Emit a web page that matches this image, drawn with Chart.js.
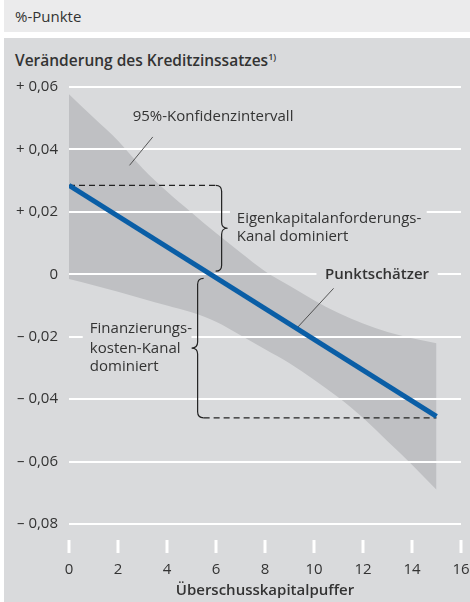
<!DOCTYPE html>
<html>
<head>
<meta charset="utf-8">
<script src="https://cdn.jsdelivr.net/npm/chart.js@4/dist/chart.umd.min.js"></script>
<style>
    body { margin: 0; background: #fff; width: 470px; height: 602px; overflow: hidden; position: relative; font-family: "Open Sans", sans-serif; color: #333; }
    #head { position: absolute; left: 4px; top: 0; width: 466px; height: 32px; background: #ebebec; font-size: 15px; line-height: 32px; padding-left: 11px; box-sizing: border-box; }
    #panel { position: absolute; left: 4px; top: 38px; width: 466px; height: 564px; background: #d9dadc; }
    #title { position: absolute; left: 15px; top: 49px; font-size: 15.5px; font-weight: 600; }
    #title sup { font-size: 9px; }
    #chart { position: absolute; left: 0; top: 0; }
</style>
</head>
<body>
<div id="head">%-Punkte</div>
<div id="panel"></div>
<div id="title">Veränderung des Kreditzinssatzes<sup>1)</sup></div>
<canvas id="chart" width="470" height="602"></canvas>
<script>
// x values (Überschusskapitalpuffer)
const xs = [0, 1, 2, 3, 4, 5, 6, 7, 8, 9, 10, 11, 12, 13, 14, 15];
// 95%-Konfidenzintervall
const upper = [0.0577, 0.0502, 0.0428, 0.0340, 0.0265, 0.0198, 0.0132, 0.0070, 0.0010, -0.0037, -0.0083, -0.0124, -0.0158, -0.0185, -0.0205, -0.0221];
const lower = [-0.0015, -0.0035, -0.0056, -0.0078, -0.0100, -0.0122, -0.0152, -0.0195, -0.0240, -0.0285, -0.0338, -0.0395, -0.0460, -0.0535, -0.0610, -0.0690];
// Punktschätzer (straight line)
const estX = [0, 15];
const est = [0.0285, -0.0455];
const yTicks = [0.06, 0.04, 0.02, 0, -0.02, -0.04, -0.06, -0.08];
const xTicks = [0, 2, 4, 6, 8, 10, 12, 14, 16];

const panelColor = '#d9dadc';
const bandColor = '#bfc0c3';
const blue = '#0a5ea6';
const textColor = '#333';
const font = '"Open Sans", sans-serif';

function fmt(v) {
    if (Math.abs(v) < 1e-9) return '0';
    const s = Math.abs(v).toFixed(2).replace('.', ',');
    return (v > 0 ? '+ ' : '\u2013 ') + s;
}

function brace(ctx, x, y1, y2, dir, r) {
    const ym = (y1 + y2) / 2;
    ctx.beginPath();
    ctx.moveTo(x - dir * r, y1);
    ctx.quadraticCurveTo(x, y1, x, y1 + r);
    ctx.lineTo(x, ym - r);
    ctx.quadraticCurveTo(x, ym, x + dir * r, ym);
    ctx.quadraticCurveTo(x, ym, x, ym + r);
    ctx.lineTo(x, y2 - r);
    ctx.quadraticCurveTo(x, y2, x - dir * r, y2);
    ctx.stroke();
}

const extras = {
    id: 'extras',
    beforeDatasetsDraw(chart) {
        const ctx = chart.ctx;
        const x = chart.scales.x;
        const y = chart.scales.y;
        const X = v => x.getPixelForValue(v);
        const Y = v => y.getPixelForValue(v);
        ctx.save();

        // gaps in the grid lines behind labels
        ctx.fillStyle = panelColor;
        [[0.02, 6.57, 14.6], [0, 10.1, 15.05], [-0.02, 0.56, 5.0]].forEach(([v, a, b]) => {
            ctx.fillRect(X(a), Y(v) - 2.5, X(b) - X(a), 5);
        });

        // x tick marks below the plot
        ctx.strokeStyle = '#fff';
        ctx.lineWidth = 3;
        xTicks.forEach(t => {
            ctx.beginPath();
            ctx.moveTo(X(t), chart.chartArea.bottom + 16);
            ctx.lineTo(X(t), chart.chartArea.bottom + 29);
            ctx.stroke();
        });

        // dashed guides and braces
        ctx.strokeStyle = '#222';
        ctx.lineWidth = 1.2;
        const r = 6;
        const b1 = X(6.23), b2 = X(5.25);
        ctx.setLineDash([6, 4]);
        ctx.beginPath();
        ctx.moveTo(X(0), Y(est[0]));
        ctx.lineTo(b1 - r, Y(est[0]));
        ctx.moveTo(b2 + r, Y(-0.046));
        ctx.lineTo(X(15), Y(-0.046));
        ctx.stroke();
        ctx.setLineDash([]);
        brace(ctx, b1, Y(est[0]), Y(0.001), 1, r);
        brace(ctx, b2, Y(-0.0013), Y(-0.046), -1, r);

        // leader lines
        ctx.strokeStyle = '#333';
        ctx.lineWidth = 0.8;
        ctx.beginPath();
        ctx.moveTo(X(2.47), Y(0.0349));
        ctx.lineTo(X(3.42), Y(0.044));
        ctx.moveTo(X(9.33), Y(-0.017));
        ctx.lineTo(X(10.8), Y(-0.0045));
        ctx.stroke();

        // texts
        ctx.fillStyle = textColor;
        ctx.textBaseline = 'middle';
        ctx.textAlign = 'left';
        ctx.font = '15px ' + font;
        ctx.fillText('95%-Konfidenzintervall', X(2.6), Y(0.0506));
        ctx.fillText('Eigenkapitalanforderungs-', X(6.85), Y(0.0179));
        ctx.fillText('Kanal dominiert', X(6.85), Y(0.0119));
        ctx.fillText('Finanzierungs-', X(0.85), Y(-0.0173));
        ctx.fillText('kosten-Kanal', X(0.85), Y(-0.0237));
        ctx.fillText('dominiert', X(0.85), Y(-0.0295));
        ctx.font = '600 15px ' + font;
        ctx.fillText('Punktschätzer', X(10.45), Y(0));
        ctx.restore();
    }
};

new Chart(document.getElementById('chart'), {
    type: 'line',
    data: {
        datasets: [{
            label: 'Punktschätzer',
            data: estX.map((v, i) => ({x: v, y: est[i]})),
            borderColor: blue,
            borderWidth: 5,
            pointRadius: 0,
            fill: false
        }, {
            label: 'obere Grenze',
            data: xs.map((v, i) => ({x: v, y: upper[i]})),
            borderWidth: 0,
            borderColor: 'transparent',
            backgroundColor: bandColor,
            pointRadius: 0,
            cubicInterpolationMode: 'monotone',
            fill: '+1'
        }, {
            label: 'untere Grenze',
            data: xs.map((v, i) => ({x: v, y: lower[i]})),
            borderWidth: 0,
            borderColor: 'transparent',
            pointRadius: 0,
            cubicInterpolationMode: 'monotone',
            fill: false
        }]
    },
    options: {
        responsive: false,
        animation: false,
        devicePixelRatio: 1,
        layout: { padding: { top: 87, right: 9, left: 0, bottom: 0 } },
        plugins: {
            legend: { display: false },
            tooltip: { enabled: false },
            filler: { drawTime: 'beforeDraw' }
        },
        scales: {
            x: {
                type: 'linear',
                min: 0,
                max: 16,
                afterBuildTicks: s => { s.ticks = xTicks.map(v => ({value: v})); },
                afterFit: s => { s.height = 78; },
                grid: { display: false, drawTicks: true, tickLength: 37 },
                border: { display: false },
                ticks: {
                    color: textColor,
                    font: { family: font, size: 15 },
                    padding: 0,
                    maxRotation: 0
                },
                title: {
                    display: true,
                    text: 'Überschusskapitalpuffer',
                    color: textColor,
                    font: { family: font, size: 15, weight: '600' },
                    padding: { top: 0, bottom: 2 }
                }
            },
            y: {
                min: -0.08,
                max: 0.06,
                afterBuildTicks: s => { s.ticks = yTicks.map(v => ({value: v})); },
                afterFit: s => { s.width = 69; },
                grid: { color: '#fff', lineWidth: 2, drawTicks: false },
                border: { display: false },
                ticks: {
                    color: textColor,
                    font: { family: font, size: 15 },
                    padding: 11,
                    callback: v => fmt(v)
                }
            }
        }
    },
    plugins: [extras]
});
</script>
</body>
</html>
